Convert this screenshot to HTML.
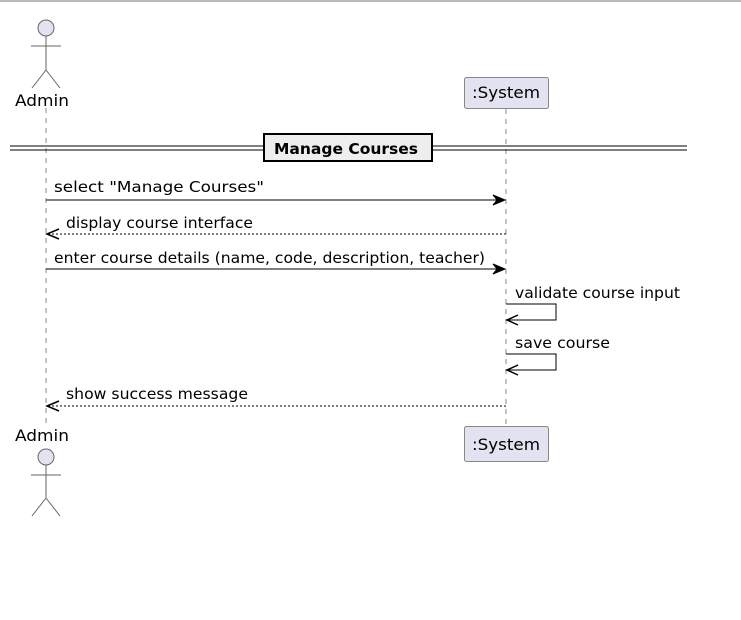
<!DOCTYPE html>
<html><head><style>body{margin:0;background:#fff}svg{display:block}text{font-family:"DejaVu Sans","Liberation Sans",sans-serif;fill:#000}</style></head>
<body>
<svg width="741" height="620" viewBox="0 0 741 620" xmlns="http://www.w3.org/2000/svg">
<rect x="0" y="0" width="741" height="2" fill="#bbb"/>
<g stroke="#888" stroke-dasharray="5,5" stroke-width="1">
<line x1="46" y1="108" x2="46" y2="425"/>
<line x1="506" y1="109" x2="506" y2="427"/>
</g>
<g stroke="#666" stroke-width="1" fill="none">
<circle cx="46" cy="28" r="8" fill="#e2e2f0"/>
<line x1="46" y1="36" x2="46" y2="70"/>
<line x1="31" y1="46" x2="61" y2="46"/>
<line x1="46" y1="70" x2="32" y2="88"/>
<line x1="46" y1="70" x2="60" y2="88"/>
</g>
<text x="42" y="106" font-size="16" text-anchor="middle" textLength="54" lengthAdjust="spacingAndGlyphs">Admin</text>
<rect x="464.5" y="77.5" width="84" height="31" rx="2" fill="#e2e2f0" stroke="#888"/>
<text x="506" y="98" font-size="16" text-anchor="middle" textLength="68" lengthAdjust="spacingAndGlyphs">:System</text>
<line x1="10" y1="146" x2="687" y2="146" stroke="#000"/>
<line x1="10" y1="150" x2="687" y2="150" stroke="#000"/>
<rect x="264" y="134" width="168" height="27" fill="#eee" stroke="#000" stroke-width="2"/>
<text x="346" y="154" font-size="15" font-weight="bold" text-anchor="middle" textLength="144" lengthAdjust="spacingAndGlyphs">Manage Courses</text>
<g stroke="#000" stroke-width="1" fill="none">
<line x1="46" y1="200" x2="504" y2="200"/>
<path d="M493,195 L505,200 L493,205 L497,200 Z" fill="#000"/>
<line x1="48" y1="234" x2="506" y2="234" stroke-dasharray="2,2"/>
<path d="M59,229 L47,234 L59,239" stroke-width="1.5"/>
<line x1="46" y1="269" x2="504" y2="269"/>
<path d="M493,264 L505,269 L493,274 L497,269 Z" fill="#000"/>
<path d="M506,304 H556 V320 H507"/>
<path d="M518,315 L507,320 L518,325" stroke-width="1.5"/>
<path d="M506,354 H556 V370 H507"/>
<path d="M518,365 L507,370 L518,375" stroke-width="1.5"/>
<line x1="48" y1="406" x2="506" y2="406" stroke-dasharray="2,2"/>
<path d="M59,401 L47,406 L59,411" stroke-width="1.5"/>
</g>
<g font-size="15">
<text x="54" y="192" textLength="210" lengthAdjust="spacingAndGlyphs">select "Manage Courses"</text>
<text x="66" y="228" textLength="187" lengthAdjust="spacingAndGlyphs">display course interface</text>
<text x="54" y="263" textLength="431" lengthAdjust="spacingAndGlyphs">enter course details (name, code, description, teacher)</text>
<text x="515" y="298" textLength="165" lengthAdjust="spacingAndGlyphs">validate course input</text>
<text x="515" y="348" textLength="95" lengthAdjust="spacingAndGlyphs">save course</text>
<text x="66" y="399" textLength="182" lengthAdjust="spacingAndGlyphs">show success message</text>
</g>
<text x="42" y="441" font-size="16" text-anchor="middle" textLength="54" lengthAdjust="spacingAndGlyphs">Admin</text>
<g stroke="#666" stroke-width="1" fill="none">
<circle cx="46" cy="457" r="8" fill="#e2e2f0"/>
<line x1="46" y1="465" x2="46" y2="498"/>
<line x1="31" y1="475" x2="61" y2="475"/>
<line x1="46" y1="498" x2="32" y2="516"/>
<line x1="46" y1="498" x2="60" y2="516"/>
</g>
<rect x="464.5" y="426.5" width="84" height="35" rx="2" fill="#e2e2f0" stroke="#888"/>
<text x="506" y="450" font-size="16" text-anchor="middle" textLength="68" lengthAdjust="spacingAndGlyphs">:System</text>
</svg>
</body></html>
